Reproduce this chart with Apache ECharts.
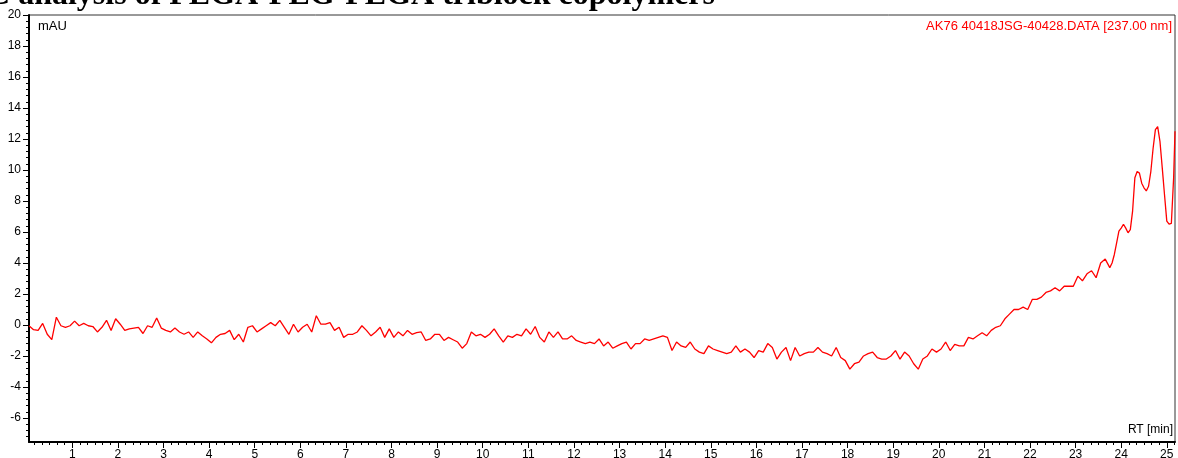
<!DOCTYPE html>
<html>
<head>
<meta charset="utf-8">
<title>HPLC trace</title>
<script src="https://cdn.jsdelivr.net/npm/echarts@6/dist/echarts.min.js"></script>
<style>
  html, body { margin: 0; padding: 0; background: #fff; }
  #chart { width: 1178px; height: 458px; }
</style>
</head>
<body>
<div id="chart"></div>
<script>
// retention time (min) and absorbance (mAU)
const rtMin = [
  0.05, 0.15, 0.25, 0.35, 0.45, 0.55, 0.65, 0.75, 0.85, 0.95,
  1.05, 1.15, 1.25, 1.35, 1.45, 1.55, 1.65, 1.75, 1.85, 1.95,
  2.05, 2.15, 2.25, 2.35, 2.45, 2.55, 2.65, 2.75, 2.85, 2.95,
  3.05, 3.15, 3.25, 3.35, 3.45, 3.55, 3.65, 3.75, 3.85, 3.95,
  4.05, 4.15, 4.25, 4.35, 4.45, 4.55, 4.65, 4.75, 4.85, 4.95,
  5.05, 5.15, 5.25, 5.35, 5.45, 5.55, 5.65, 5.75, 5.85, 5.95,
  6.05, 6.15, 6.25, 6.35, 6.45, 6.55, 6.65, 6.75, 6.85, 6.95,
  7.05, 7.15, 7.25, 7.35, 7.45, 7.55, 7.65, 7.75, 7.85, 7.95,
  8.05, 8.15, 8.25, 8.35, 8.45, 8.55, 8.65, 8.75, 8.85, 8.95,
  9.05, 9.15, 9.25, 9.35, 9.45, 9.55, 9.65, 9.75, 9.85, 9.95,
  10.05, 10.15, 10.25, 10.35, 10.45, 10.55, 10.65, 10.75, 10.85, 10.95,
  11.05, 11.15, 11.25, 11.35, 11.45, 11.55, 11.65, 11.75, 11.85, 11.95,
  12.05, 12.15, 12.25, 12.35, 12.45, 12.55, 12.65, 12.75, 12.85, 12.95,
  13.05, 13.15, 13.25, 13.35, 13.45, 13.55, 13.65, 13.75, 13.85, 13.95,
  14.05, 14.15, 14.25, 14.35, 14.45, 14.55, 14.65, 14.75, 14.85, 14.95,
  15.05, 15.15, 15.25, 15.35, 15.45, 15.55, 15.65, 15.75, 15.85, 15.95,
  16.05, 16.15, 16.25, 16.35, 16.45, 16.55, 16.65, 16.75, 16.85, 16.95,
  17.05, 17.15, 17.25, 17.35, 17.45, 17.55, 17.65, 17.75, 17.85, 17.95,
  18.05, 18.15, 18.25, 18.35, 18.45, 18.55, 18.65, 18.75, 18.85, 18.95,
  19.05, 19.15, 19.25, 19.35, 19.45, 19.55, 19.65, 19.75, 19.85, 19.95,
  20.05, 20.15, 20.25, 20.35, 20.45, 20.55, 20.65, 20.75, 20.85, 20.95,
  21.05, 21.15, 21.25, 21.35, 21.45, 21.55, 21.65, 21.75, 21.85, 21.95,
  22.05, 22.15, 22.25, 22.35, 22.45, 22.55, 22.65, 22.75, 22.85, 22.95,
  23.05, 23.15, 23.25, 23.35, 23.45, 23.55, 23.65, 23.75, 23.80, 23.85,
  23.90, 23.95, 24.00, 24.05, 24.10, 24.15, 24.20, 24.25, 24.30, 24.35,
  24.40, 24.45, 24.50, 24.55, 24.60, 24.65, 24.70, 24.75, 24.80, 24.85,
  24.90, 24.95, 25.00, 25.05, 25.10, 25.15, 25.18
];
const absMau = [
  -0.05, -0.3, -0.35, 0.1, -0.6, -0.95, 0.5, -0.05, -0.15, -0.05,
  0.25, -0.05, 0.1, -0.05, -0.1, -0.45, -0.15, 0.3, -0.35, 0.4,
  0.05, -0.35, -0.25, -0.2, -0.15, -0.55, -0.05, -0.15, 0.45, -0.2,
  -0.35, -0.45, -0.2, -0.45, -0.6, -0.45, -0.8, -0.45, -0.7, -0.9,
  -1.15, -0.8, -0.6, -0.55, -0.35, -0.95, -0.6, -1.1, -0.15, -0.05,
  -0.45, -0.25, -0.05, 0.15, -0.05, 0.3, -0.15, -0.6, 0.05, -0.45,
  -0.15, 0.05, -0.45, 0.6, 0.05, 0.05, 0.15, -0.35, -0.15, -0.8,
  -0.6, -0.6, -0.45, -0.05, -0.35, -0.7, -0.45, -0.15, -0.8, -0.25,
  -0.8, -0.45, -0.7, -0.35, -0.6, -0.5, -0.45, -1.0, -0.9, -0.6,
  -0.6, -1.0, -0.8, -0.95, -1.1, -1.5, -1.2, -0.45, -0.7, -0.6,
  -0.8, -0.6, -0.25, -0.7, -1.1, -0.7, -0.8, -0.6, -0.7, -0.25,
  -0.6, -0.1, -0.8, -1.1, -0.45, -0.8, -0.45, -0.9, -0.9, -0.7,
  -1.0, -1.1, -1.2, -1.1, -1.2, -0.9, -1.35, -1.1, -1.5, -1.35,
  -1.2, -1.1, -1.55, -1.2, -1.2, -0.9, -1.0, -0.9, -0.8, -0.7,
  -0.8, -1.65, -1.1, -1.35, -1.45, -1.1, -1.55, -1.75, -1.85, -1.35,
  -1.55, -1.65, -1.75, -1.85, -1.75, -1.35, -1.75, -1.55, -1.75, -2.1,
  -1.65, -1.75, -1.2, -1.45, -2.2, -1.75, -1.45, -2.3, -1.45, -2.0,
  -1.85, -1.75, -1.75, -1.45, -1.75, -1.85, -2.0, -1.45, -2.1, -2.3,
  -2.85, -2.5, -2.4, -2.0, -1.85, -1.75, -2.1, -2.2, -2.2, -2.0,
  -1.65, -2.2, -1.75, -2.0, -2.5, -2.85, -2.2, -2.0, -1.55, -1.75,
  -1.55, -1.1, -1.65, -1.25, -1.35, -1.35, -0.8, -0.9, -0.7, -0.5,
  -0.7, -0.35, -0.15, -0.05, 0.4, 0.7, 1.0, 1.0, 1.15, 1.0,
  1.65, 1.65, 1.8, 2.1, 2.2, 2.4, 2.2, 2.5, 2.5, 2.5,
  3.15, 2.85, 3.3, 3.5, 3.05, 4.0, 4.25, 3.7, 4.0, 4.55,
  5.3, 6.05, 6.25, 6.5, 6.25, 5.95, 6.15, 7.35, 9.5, 9.9,
  9.8, 9.15, 8.85, 8.65, 8.95, 9.9, 11.4, 12.6, 12.8, 11.85,
  10.15, 8.4, 6.7, 6.5, 6.55, 9.5, 12.5
];

// labelled ticks
const xTickLabels = [ 1, 2, 3, 4, 5, 6, 7, 8, 9, 10, 11, 12, 13, 14, 15, 16, 17, 18, 19, 20, 21, 22, 23, 24, 25 ];
const yTickLabels = [ -6, -4, -2, 0, 2, 4, 6, 8, 10, 12, 14, 16, 18, 20 ];

const xMin = 0.05, xMax = 25.18;
const yMin = -7.55, yMax = 20;

( function ()
{
  let myChart = echarts.init( document.getElementById( 'chart' ) );

  // minor ticks: 6 per minute on x, 0.4 mAU on y
  let xMinor = [];
  for ( let k = 1; k / 6 <= xMax; k++ )
  {
    if ( k % 6 !== 0 ) xMinor.push( k / 6 );
  }
  let yMinor = [];
  for ( let k = -18; k * 0.4 <= yMax + 0.001; k++ )
  {
    if ( k % 5 !== 0 ) yMinor.push( Math.round( k * 4 ) / 10 );
  }

  let points = rtMin.map( function ( t, i ) { return [ t, absMau[ i ] ]; } );
  let fontFamily = '"Liberation Sans", Arial, sans-serif';

  let option = {
    animation: false,
    grid: {
      left: 29, right: 3, top: 15, bottom: 16,
      show: true, borderColor: '#333', borderWidth: 1,
      outerBoundsMode: 'none'
    },
    xAxis: [
      {
        type: 'value', min: xMin, max: xMax,
        axisLine: { show: true, onZero: false, lineStyle: { color: '#000', width: 2 } },
        axisTick: { show: true, length: 6, customValues: xTickLabels, lineStyle: { color: '#000', width: 1 } },
        axisLabel: { customValues: xTickLabels, color: '#000', fontSize: 12, fontFamily: fontFamily, margin: 7 },
        splitLine: { show: false }
      },
      {
        type: 'value', min: xMin, max: xMax, position: 'bottom',
        axisLine: { show: false, onZero: false },
        axisTick: { show: true, length: 3, customValues: xMinor, lineStyle: { color: '#000', width: 1 } },
        axisLabel: { show: false },
        splitLine: { show: false }
      }
    ],
    yAxis: [
      {
        type: 'value', min: yMin, max: yMax,
        axisLine: { show: true, onZero: false, lineStyle: { color: '#000', width: 2 } },
        axisTick: { show: true, length: 6, customValues: yTickLabels, lineStyle: { color: '#000', width: 1 } },
        axisLabel: { customValues: yTickLabels, color: '#000', fontSize: 12, fontFamily: fontFamily, margin: 8 },
        splitLine: { show: false }
      },
      {
        type: 'value', min: yMin, max: yMax, position: 'left',
        axisLine: { show: false, onZero: false },
        axisTick: { show: true, length: 3, customValues: yMinor, lineStyle: { color: '#000', width: 1 } },
        axisLabel: { show: false },
        splitLine: { show: false }
      }
    ],
    graphic: [
      {
        type: 'text', x: 715, y: 12,
        style: {
          text: 'GPC analysis of PEGA-PEG-PEGA triblock copolymers',
          fill: '#000', font: 'bold 32px "Liberation Serif", "Times New Roman", serif',
          align: 'right', verticalAlign: 'bottom'
        }
      },
      {
        type: 'text', x: 38, y: 20,
        style: { text: 'mAU', fill: '#000', font: '13px ' + fontFamily }
      },
      {
        type: 'text', x: 1172, y: 20,
        style: { text: 'AK76 40418JSG-40428.DATA [237.00 nm]', fill: '#ff0000', font: '13px ' + fontFamily, align: 'right' }
      },
      {
        type: 'text', x: 1173, y: 424,
        style: { text: 'RT [min]', fill: '#000', font: '12px ' + fontFamily, align: 'right' }
      }
    ],
    series: [
      {
        type: 'line',
        xAxisIndex: 0, yAxisIndex: 0,
        data: points,
        showSymbol: false,
        silent: true,
        lineStyle: { color: '#ff0000', width: 1.3 }
      }
    ]
  };
  myChart.setOption( option );
  window.addEventListener( "resize", function ()
  {
    myChart.resize();
  } );
} )();
</script>
</body>
</html>
